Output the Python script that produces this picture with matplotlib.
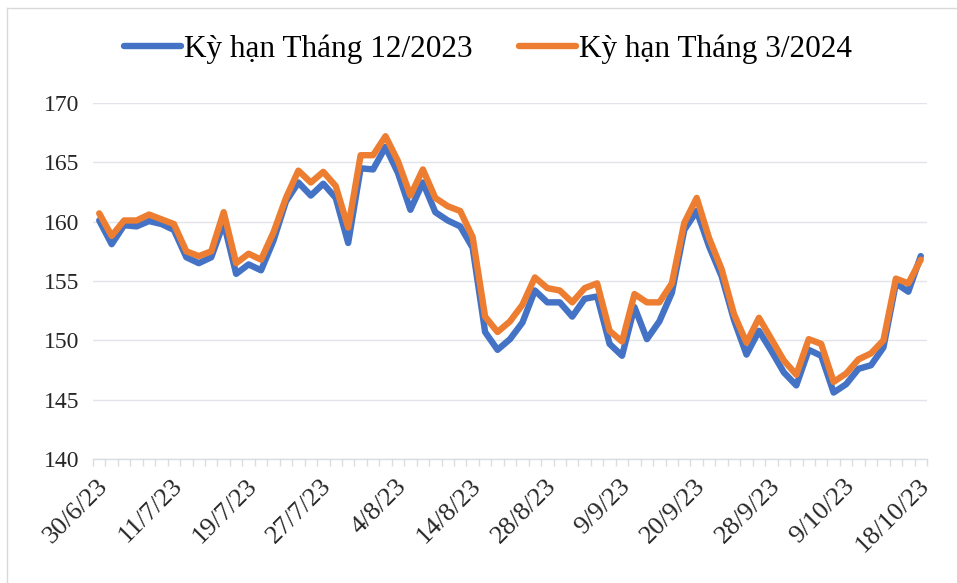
import numpy as np
import matplotlib
matplotlib.use("Agg")
import matplotlib.pyplot as plt
from matplotlib.lines import Line2D
from matplotlib.transforms import ScaledTranslation

# giá cao su kỳ hạn (JPX), theo phiên giao dịch
tick_labels = ["30/6/23", "11/7/23", "19/7/23", "27/7/23", "4/8/23", "14/8/23",
               "28/8/23", "9/9/23", "20/9/23", "28/9/23", "9/10/23", "18/10/23"]
label_step = 6

ky_han_12_2023 = [160.1, 158.1, 159.7, 159.6, 160.05, 159.8, 159.3, 157.0, 156.5, 157.0,
                  159.9, 155.6, 156.4, 155.9, 158.4, 161.7, 163.3, 162.2, 163.2, 162.0,
                  158.2, 164.5, 164.4, 166.3, 164.1, 161.0, 163.3, 160.8, 160.1, 159.6,
                  157.8, 150.7, 149.2, 150.1, 151.5, 154.2, 153.2, 153.2, 152.0, 153.5,
                  153.7, 149.7, 148.7, 152.8, 150.1, 151.6, 154.0, 159.3, 160.9, 157.9,
                  155.4, 151.7, 148.8, 150.8, 149.1, 147.3, 146.2, 149.2, 148.7, 145.6,
                  146.3, 147.6, 147.9, 149.4, 154.8, 154.1, 157.1]

ky_han_3_2024 = [160.7, 158.8, 160.1, 160.1, 160.6, 160.2, 159.8, 157.5, 157.1, 157.5,
                 160.8, 156.5, 157.3, 156.8, 159.1, 162.0, 164.3, 163.3, 164.2, 163.0,
                 159.5, 165.6, 165.6, 167.2, 165.1, 162.2, 164.4, 162.0, 161.3, 160.9,
                 158.7, 152.0, 150.7, 151.6, 153.0, 155.3, 154.4, 154.2, 153.2, 154.4,
                 154.8, 150.8, 149.9, 153.9, 153.2, 153.2, 154.8, 159.9, 162.0, 158.6,
                 156.0, 152.2, 149.8, 151.9, 150.1, 148.3, 147.1, 150.1, 149.7, 146.5,
                 147.2, 148.4, 148.9, 150.0, 155.2, 154.8, 156.8]

series_names = ["Kỳ hạn Tháng 12/2023", "Kỳ hạn Tháng 3/2024"]
colors = ["#4472C4", "#ED7D31"]

plt.rcParams["font.family"] = ["Liberation Serif", "DejaVu Serif"]

fig = plt.figure(figsize=(9.57, 5.83), dpi=100)
ax = fig.add_axes([93/957, 1 - 459/583, (927 - 93)/957, (459 - 103)/583])

n = len(ky_han_12_2023)
x = np.arange(n)
lw = 4.6
ax.plot(x, ky_han_12_2023, color=colors[0], lw=lw, solid_joinstyle="round",
        solid_capstyle="round", label=series_names[0], zorder=3)
ax.plot(x, ky_han_3_2024, color=colors[1], lw=lw, solid_joinstyle="round",
        solid_capstyle="round", label=series_names[1], zorder=4)

ax.set_xlim(-0.5, n - 0.5)
ax.set_ylim(140, 170)
ax.set_yticks(np.arange(140, 171, 5))
ax.grid(axis="y", color="#E1E4EA", lw=1.0)
ax.set_axisbelow(True)

for side in ["top", "right", "left"]:
    ax.spines[side].set_visible(False)
ax.spines["bottom"].set_color("#D9DCE3")
ax.spines["bottom"].set_linewidth(1.0)

# tick marks sit between categories, labels every 6th session
ax.set_xticks(np.arange(-0.5, n, 1.0), minor=True)
ax.tick_params(axis="x", which="minor", length=5, color="#D9DCE3", width=1.0)
ax.set_xticks(x[::label_step])
ax.set_xticklabels(tick_labels)
ax.tick_params(axis="x", which="major", length=0, pad=17, labelsize=19)
shift = ScaledTranslation(5/100, 0, fig.dpi_scale_trans)
for lab in ax.get_xticklabels():
    lab.set_rotation(45)
    lab.set_rotation_mode("anchor")
    lab.set_ha("right")
    lab.set_va("center")
    lab.set_transform(lab.get_transform() + shift)

ax.tick_params(axis="y", length=0, pad=10, labelsize=17, labelcolor="#262626")
ax.tick_params(axis="x", labelcolor="#262626")

handles = [Line2D([], [], color=c, lw=lw, solid_capstyle="round") for c in colors]
fig.legend(handles, series_names, loc="center", bbox_to_anchor=(0.51, 0.916),
           ncol=2, frameon=False, fontsize=22.5, handlelength=1.8,
           handletextpad=0.1, columnspacing=1.5)

# khung biểu đồ
fig.add_artist(Line2D([7/957, 7/957], [0, 1 - 8/583], transform=fig.transFigure,
                      color="#D9D9D9", lw=1.0))
fig.add_artist(Line2D([7/957, 1], [1 - 8/583, 1 - 8/583], transform=fig.transFigure,
                      color="#D9D9D9", lw=1.0))

fig.savefig("out.png", dpi=100)
